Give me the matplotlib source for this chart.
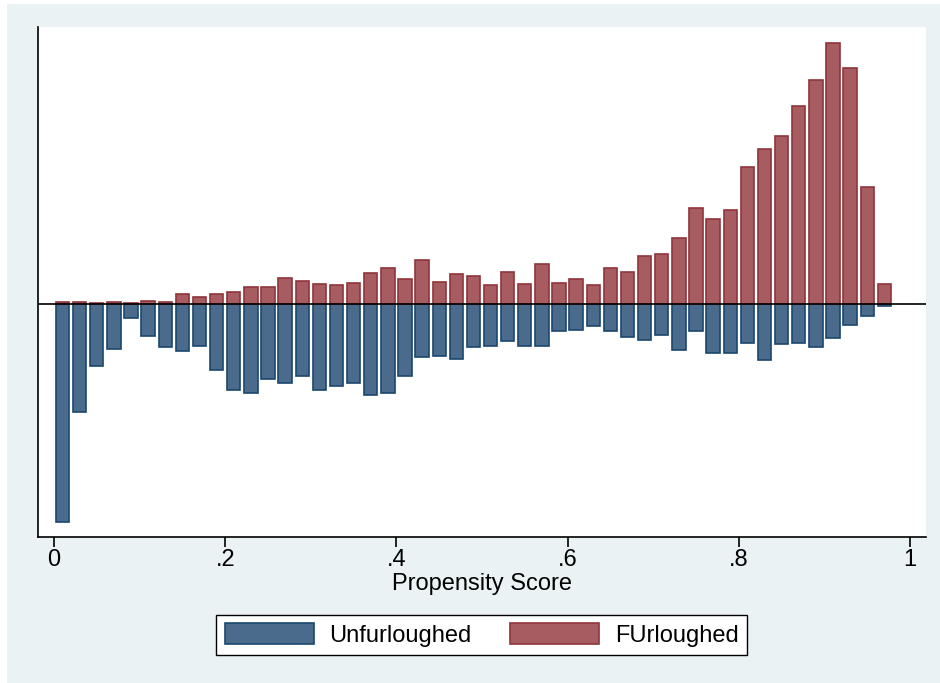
import numpy as np
import matplotlib
matplotlib.use("Agg")
import matplotlib.pyplot as plt
from matplotlib.patches import Patch, Rectangle

plt.rcParams['font.family'] = ['Liberation Sans', 'DejaVu Sans']

# bin centres of the propensity score histogram
bins = [0.01, 0.03, 0.05, 0.07, 0.09, 0.11, 0.13, 0.15, 0.17, 0.19,
        0.21, 0.23, 0.25, 0.27, 0.29, 0.31, 0.33, 0.35, 0.37, 0.39,
        0.41, 0.43, 0.45, 0.47, 0.49, 0.51, 0.53, 0.55, 0.57, 0.59,
        0.61, 0.63, 0.65, 0.67, 0.69, 0.71, 0.73, 0.75, 0.77, 0.79,
        0.81, 0.83, 0.85, 0.87, 0.89, 0.91, 0.93, 0.95, 0.97]

# furloughed (plotted upward)
furloughed = [7, 5, 3, 5, 3, 9, 7, 29, 21, 29,
              34, 48, 50, 76, 66, 58, 55, 61, 90, 105,
              72, 128, 64, 87, 81, 55, 93, 58, 116, 61,
              73, 55, 105, 93, 140, 145, 192, 277, 247, 273,
              396, 447, 485, 572, 648, 755, 683, 337, 58]

# unfurloughed (plotted downward)
unfurloughed = [630, 313, 179, 130, 40, 92, 125, 137, 121, 191,
                250, 258, 217, 229, 209, 250, 237, 229, 264, 258,
                209, 154, 150, 158, 125, 121, 108, 121, 121, 78,
                74, 65, 78, 95, 104, 91, 133, 78, 142, 142,
                112, 163, 116, 112, 125, 99, 61, 36, 7]

xticks = [0, 0.2, 0.4, 0.6, 0.8, 1]
xticklabels = ['0', '.2', '.4', '.6', '.8', '1']

blue_fill, blue_edge = '#4A6B8B', '#1A476F'
red_fill, red_edge = '#A65C60', '#90353B'

fig = plt.figure(figsize=(9.4, 6.83), dpi=100)
fig.patch.set_facecolor('white')
fig.patches.append(Rectangle((7 / 940, 0), 1, 1 - 4 / 683, transform=fig.transFigure,
                             facecolor='#EAF2F3', edgecolor='none', zorder=0))

ax = fig.add_axes([38 / 940, 1 - 537 / 683, (926 - 38) / 940, 510 / 683])
ax.set_zorder(1)
ax.set_facecolor('white')

width = 0.0156
ax.bar(bins, -np.array(unfurloughed), width=width, color=blue_fill,
       edgecolor=blue_edge, linewidth=1.2, zorder=2)
ax.bar(bins, furloughed, width=width, color=red_fill,
       edgecolor=red_edge, linewidth=1.2, zorder=2)
ax.axhline(0, color='black', linewidth=1.2, zorder=3)

ax.set_xlim(-16 / 856, 1 + 16 / 856)
ax.set_ylim(-674, 801)

ax.spines['top'].set_visible(False)
ax.spines['right'].set_visible(False)
ax.spines['left'].set_linewidth(1.2)
ax.spines['bottom'].set_linewidth(1.2)
ax.set_yticks([])
ax.set_xticks(xticks)
ax.set_xticklabels(xticklabels, fontsize=17)
ax.tick_params(axis='x', direction='out', length=7, width=1.2, pad=2)
ax.set_xlabel('Propensity Score', fontsize=17, labelpad=1)

handles = [Patch(facecolor=blue_fill, edgecolor=blue_edge, linewidth=1.2),
           Patch(facecolor=red_fill, edgecolor=red_edge, linewidth=1.2)]
leg = fig.legend(handles, ['Unfurloughed', 'FUrloughed'], loc='center',
                 bbox_to_anchor=(481.5 / 940, 1 - 635 / 683), ncol=2, fontsize=17,
                 frameon=True, fancybox=False, edgecolor='black', framealpha=1,
                 handlelength=3.8, handleheight=1.0, handletextpad=0.65,
                 columnspacing=1.6, borderpad=0.35)
leg.get_frame().set_linewidth(1.0)

fig.savefig('out.png', dpi=100, facecolor=fig.get_facecolor())
